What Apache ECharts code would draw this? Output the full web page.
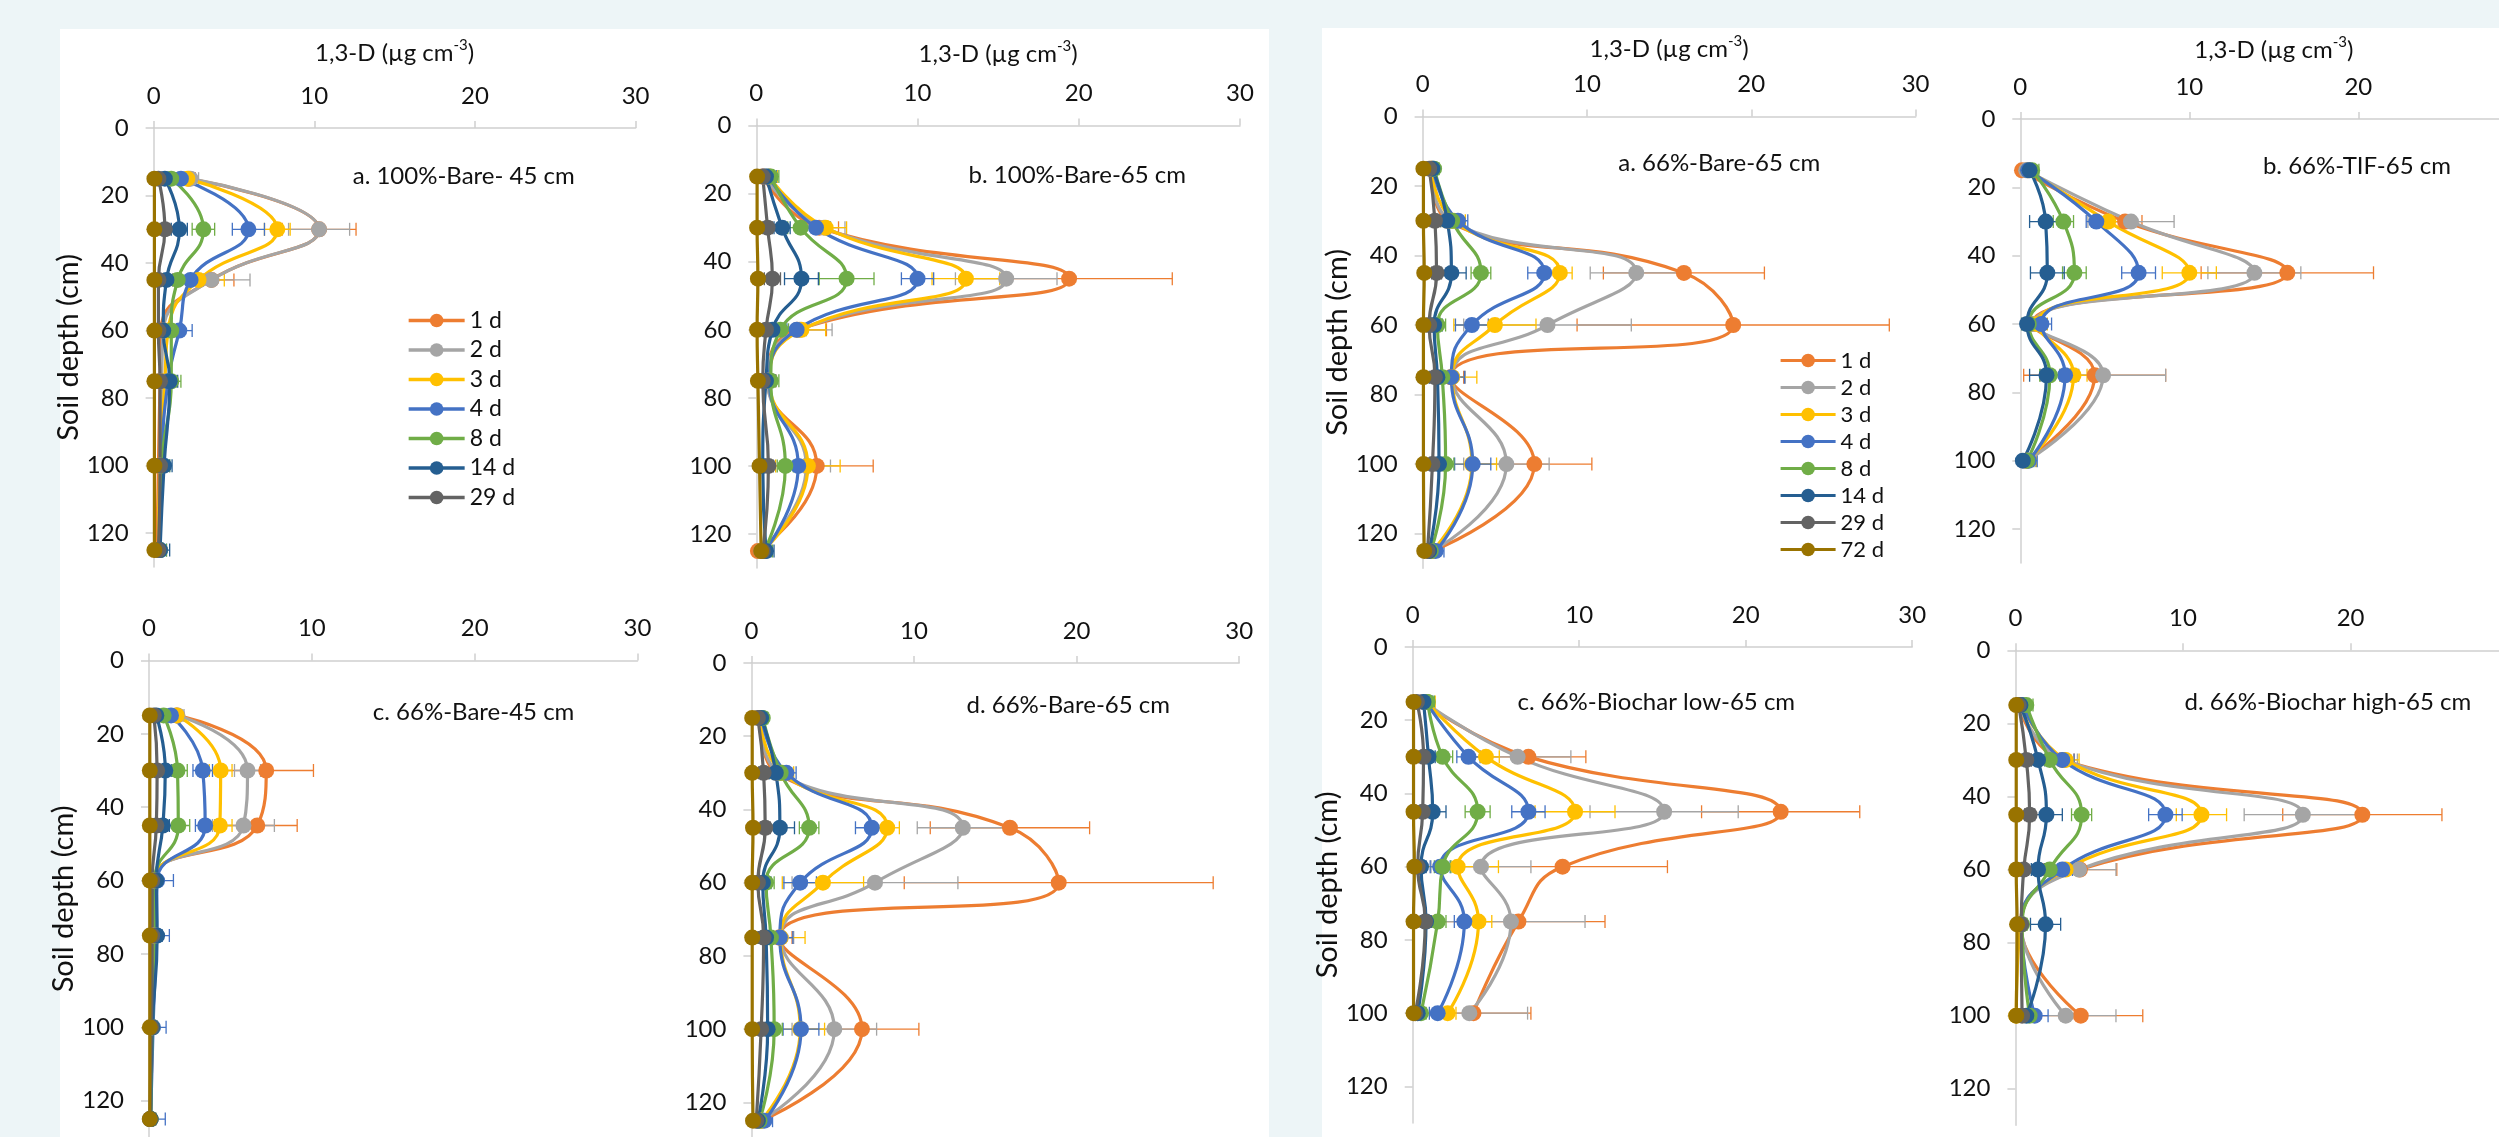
<!DOCTYPE html>
<html>
<head>
<meta charset="utf-8">
<script src="https://cdn.jsdelivr.net/npm/echarts@6/dist/echarts.min.js"></script>
<style>
  html, body { margin: 0; padding: 0; background: #EDF5F7; }
  #wrap { position: relative; width: 2499px; height: 1137px; overflow: hidden; }
  .box { position: absolute; background: #fff; }
  #main { position: absolute; left: 0; top: 0; width: 2499px; height: 1137px; }
</style>
</head>
<body>
<div id="wrap">
  <div class="box" style="left:60px;top:29px;width:1209px;height:1108px;"></div>
  <div class="box" style="left:1322px;top:28px;width:1177px;height:1109px;"></div>
  <div id="main"></div>
</div>
<script>
// depth of the sampling ports (cm)
var DEPTHS = [15, 30, 45, 60, 75, 100, 125];
var DEPTHS_SHORT = [15, 30, 45, 60, 75, 100];
var DAYS = ['1 d', '2 d', '3 d', '4 d', '8 d', '14 d', '29 d', '72 d'];
var COLORS = ['#ED7D31', '#A5A5A5', '#FFC000', '#4472C4', '#70AD47', '#255E91', '#636363', '#997300'];
var DEPTH_TICKS = [0, 20, 40, 60, 80, 100, 120];

// rows = days (1 d ... 72 d), columns = depths; 1,3-D in µg cm-3
// a. 100%-Bare- 45 cm
var bare100_45 = [
  [2.2, 10.3, 3.6, 0.45, 0.4, 0.3, 0.2],
  [2.3, 10.3, 3.6, 0.6, 0.5, 0.4, 0.3],
  [2.1, 7.7, 2.8, 0.9, 0.7, 0.4, 0.3],
  [1.7, 5.9, 2.3, 1.6, 0.9, 0.5, 0.4],
  [1.1, 3.1, 1.5, 1.1, 1.1, 0.5, 0.4],
  [0.7, 1.6, 0.8, 0.6, 1.0, 0.65, 0.4],
  [0.3, 0.7, 0.3, 0.3, 0.4, 0.4, 0.3],
  [0.05, 0.05, 0.05, 0.05, 0.05, 0.05, 0.05]
];
var bare100_45_sd = [
  [0.4, 2.3, 1.4, 0.3, 0.3, 0.3, 0.3],
  [0.5, 1.9, 2.4, 0.4, 0.4, 0.4, 0.3],
  [0.4, 0.8, 1.6, 0.4, 0.4, 0.4, 0.3],
  [0.3, 1.0, 0.8, 0.8, 0.5, 0.5, 0.4],
  [0.3, 0.7, 0.6, 0.4, 0.6, 0.5, 0.4],
  [0.2, 0.5, 0.4, 0.3, 0.5, 0.5, 0.6],
  [0.2, 0.3, 0.2, 0.2, 0.2, 0.3, 0.3],
  [0, 0, 0, 0, 0, 0, 0]
];

// b. 100%-Bare-65 cm
var bare100_65 = [
  [0.4, 3.9, 19.4, 2.55, 0.7, 3.75, 0.1],
  [0.5, 4.2, 15.5, 2.7, 0.7, 3.1, 0.3],
  [0.8, 4.3, 13.0, 2.8, 0.8, 3.2, 0.4],
  [0.75, 3.7, 10.0, 2.5, 0.8, 2.6, 0.5],
  [0.9, 2.75, 5.6, 1.5, 0.9, 1.8, 0.5],
  [0.6, 1.6, 2.8, 1.0, 0.6, 0.4, 0.6],
  [0.4, 0.7, 1.0, 0.6, 0.4, 0.75, 0.4],
  [0.05, 0.05, 0.1, 0.05, 0.1, 0.2, 0.3]
];
var bare100_65_sd = [
  [0.4, 1.2, 6.4, 1.8, 0.5, 3.5, 0.3],
  [0.5, 1.3, 3.15, 2.0, 0.5, 1.5, 0.4],
  [0.5, 1.3, 2.1, 1.5, 0.4, 2.0, 0.4],
  [0.5, 0.9, 1.0, 0.6, 0.4, 0.6, 0.4],
  [0.5, 0.8, 1.7, 0.5, 0.5, 0.5, 0.5],
  [0.4, 0.5, 1.05, 0.4, 0.4, 0.3, 0.5],
  [0.2, 0.3, 0.5, 0.3, 0.3, 0.3, 0.3],
  [0, 0, 0, 0, 0, 0, 0]
];

// c. 66%-Bare-45 cm
var bare66_45 = [
  [1.7, 7.2, 6.65, 0.3, 0.3, 0.2, 0.1],
  [1.75, 6.05, 5.8, 0.3, 0.3, 0.2, 0.1],
  [1.7, 4.4, 4.35, 0.35, 0.35, 0.2, 0.1],
  [1.35, 3.3, 3.45, 0.5, 0.45, 0.25, 0.1],
  [0.9, 1.75, 1.8, 0.35, 0.4, 0.2, 0.1],
  [0.45, 1.0, 0.85, 0.45, 0.5, 0.2, 0.1],
  [0.3, 0.5, 0.45, 0.2, 0.2, 0.15, 0.05],
  [0.05, 0.05, 0.05, 0.05, 0.05, 0.05, 0.05]
];
var bare66_45_sd = [
  [0.3, 2.9, 2.45, 0.3, 0.3, 0.3, 0.3],
  [0.4, 0.8, 1.9, 0.3, 0.3, 0.3, 0.3],
  [0.3, 0.7, 0.75, 0.3, 0.3, 0.3, 0.3],
  [0.3, 0.6, 0.6, 1.0, 0.8, 0.8, 0.9],
  [0.3, 0.6, 0.7, 0.3, 0.3, 0.3, 0.3],
  [0.2, 0.4, 0.4, 0.3, 0.3, 0.3, 0.3],
  [0.2, 0.2, 0.2, 0.2, 0.2, 0.2, 0.2],
  [0, 0, 0, 0, 0, 0, 0]
];

// d. / a. 66%-Bare-65 cm (same treatment drawn twice)
var bare66_65 = [
  [0.5, 1.55, 15.9, 18.9, 1.7, 6.8, 0.6],
  [0.5, 1.7, 13.0, 7.6, 1.8, 5.1, 0.6],
  [0.55, 1.9, 8.35, 4.4, 1.8, 3.0, 0.6],
  [0.65, 2.15, 7.4, 3.0, 1.75, 3.05, 0.8],
  [0.7, 1.8, 3.55, 0.9, 1.2, 1.4, 0.5],
  [0.6, 1.5, 1.75, 0.7, 0.9, 1.0, 0.4],
  [0.4, 0.75, 0.85, 0.4, 0.75, 0.6, 0.3],
  [0.05, 0.05, 0.1, 0.05, 0.05, 0.05, 0.1]
];
var bare66_65_sd = [
  [0.3, 0.6, 4.9, 9.5, 0.8, 3.5, 0.4],
  [0.3, 0.6, 2.8, 5.1, 0.8, 2.6, 0.4],
  [0.3, 0.7, 0.75, 2.5, 1.5, 1.5, 0.4],
  [0.3, 0.6, 1.0, 1.0, 0.8, 1.1, 0.5],
  [0.3, 0.5, 0.6, 0.5, 0.6, 0.5, 0.4],
  [0.3, 0.4, 0.9, 0.5, 0.5, 0.5, 0.3],
  [0.2, 0.3, 0.3, 0.3, 0.3, 0.3, 0.2],
  [0, 0, 0, 0, 0, 0, 0]
];

// b. 66%-TIF-65 cm (1 d ... 14 d)
var tif66_65 = [
  [0.1, 6.2, 15.8, 0.7, 4.4, 0.3],
  [0.35, 6.55, 13.85, 0.8, 4.9, 0.4],
  [0.45, 5.2, 10.0, 1.0, 3.15, 0.45],
  [0.45, 4.5, 7.0, 1.25, 2.65, 0.5],
  [0.7, 2.55, 3.2, 0.5, 1.75, 0.4],
  [0.55, 1.5, 1.6, 0.4, 1.55, 0.15]
];
var tif66_65_sd = [
  [0.3, 1.0, 5.1, 0.5, 4.2, 0.4],
  [0.4, 2.55, 2.75, 0.6, 3.7, 0.5],
  [0.4, 0.9, 1.6, 0.6, 0.8, 0.5],
  [0.4, 0.6, 1.0, 0.6, 0.8, 0.5],
  [0.4, 0.6, 0.7, 0.4, 0.6, 0.4],
  [0.3, 0.95, 1.0, 0.3, 1.0, 0.3]
];

// c. 66%-Biochar low-65 cm
var bclow66_65 = [
  [0.65, 6.95, 22.1, 9.0, 6.35, 3.65],
  [0.7, 6.3, 15.1, 4.1, 5.9, 3.4],
  [0.85, 4.4, 9.75, 2.7, 3.95, 2.1],
  [0.8, 3.35, 6.95, 1.65, 3.1, 1.5],
  [0.9, 1.8, 3.9, 1.8, 1.5, 0.5],
  [0.65, 0.95, 1.2, 0.5, 0.8, 0.3],
  [0.25, 0.65, 0.6, 0.3, 0.75, 0.15],
  [0.05, 0.05, 0.05, 0.1, 0.05, 0.05]
];
var bclow66_65_sd = [
  [0.4, 3.45, 4.75, 6.3, 5.2, 3.45],
  [0.5, 3.2, 4.45, 3.0, 4.45, 3.5],
  [0.5, 0.8, 2.4, 2.45, 0.8, 0.5],
  [0.4, 0.7, 1.0, 0.6, 0.6, 0.5],
  [0.4, 0.6, 0.75, 0.5, 0.5, 0.3],
  [0.3, 0.4, 0.8, 0.3, 0.3, 0.3],
  [0.2, 0.3, 0.3, 0.2, 0.3, 0.2],
  [0, 0, 0, 0, 0, 0]
];

// d. 66%-Biochar high-65 cm
var bchigh66_65 = [
  [0.2, 2.8, 20.7, 3.85, 0.3, 3.9],
  [0.25, 2.9, 17.15, 3.8, 0.35, 3.0],
  [0.4, 3.0, 11.1, 3.0, 0.3, 0.05],
  [0.45, 2.8, 8.95, 2.8, 0.35, 1.15],
  [0.65, 2.05, 3.95, 2.05, 0.4, 0.85],
  [0.3, 1.35, 1.85, 1.35, 1.8, 0.65],
  [0.2, 0.65, 0.85, 0.5, 0.35, 0.4],
  [0.05, 0.05, 0.05, 0.05, 0.1, 0.05]
];
var bchigh66_65_sd = [
  [0.4, 0.7, 4.75, 2.2, 0.3, 3.7],
  [0.4, 0.8, 3.5, 2.2, 0.3, 3.0],
  [0.4, 0.8, 1.5, 0.8, 0.3, 0.3],
  [0.4, 0.7, 1.0, 0.6, 0.3, 0.8],
  [0.4, 0.5, 0.6, 0.5, 0.3, 0.4],
  [0.3, 0.4, 0.95, 0.4, 0.9, 0.4],
  [0.2, 0.3, 0.3, 0.2, 0.2, 0.2],
  [0, 0, 0, 0, 0, 0]
];

var TITLE = '1,3-D (µg cm{s|-3})';
var YNAME = 'Soil depth (cm)';
var FONT = 'Lato';

// panel layout (pixel boxes of each plot area)
var PANELS = [
  { mean: bare100_45, sd: bare100_45_sd, depths: DEPTHS, box: [153.6, 128, 482, 439],
    label: 'a. 100%-Bare- 45 cm', at: [352.7, 176.5], title: 60, yname: 35 },
  { mean: bare100_65, sd: bare100_65_sd, depths: DEPTHS, box: [756.3, 125.5, 483.7, 442.6],
    label: 'b. 100%-Bare-65 cm', at: [968.6, 175.7], title: 56.5 },
  { mean: bare66_45, sd: bare66_45_sd, depths: DEPTHS, box: [149, 660.4, 488.5, 477],
    label: 'c. 66%-Bare-45 cm', at: [372.8, 712], yname: 31 },
  { mean: bare66_65, sd: bare66_65_sd, depths: DEPTHS, box: [751.4, 663, 487.8, 476],
    label: 'd. 66%-Bare-65 cm', at: [966.5, 705.6] },
  { mean: bare66_65, sd: bare66_65_sd, depths: DEPTHS, box: [1422.6, 116.5, 493, 451.8],
    label: 'a. 66%-Bare-65 cm', at: [1618.3, 163.5], title: 52.5, yname: 40 },
  { mean: tif66_65, sd: tif66_65_sd, depths: DEPTHS_SHORT, box: [2020.3, 119.1, 507, 444],
    label: 'b. 66%-TIF-65 cm', at: [2262.9, 166.5], title: 54 },
  { mean: bclow66_65, sd: bclow66_65_sd, depths: DEPTHS_SHORT, box: [1412.7, 647, 499.5, 476],
    label: 'c. 66%-Biochar low-65 cm', at: [1517.5, 702], yname: 34 },
  { mean: bchigh66_65, sd: bchigh66_65_sd, depths: DEPTHS_SHORT, box: [2015.4, 650.3, 502.8, 475],
    label: 'd. 66%-Biochar high-65 cm', at: [2184.6, 702] }
];

function errorBar(color) {
  return function (params, api) {
    var v = api.value(0), d = api.value(1), e = api.value(2);
    if (!e) return null;
    var l = api.coord([v - e, d]);
    var r = api.coord([v + e, d]);
    var st = { stroke: color, lineWidth: 1.3 };
    return {
      type: 'group',
      children: [
        { type: 'line', shape: { x1: l[0], y1: l[1], x2: r[0], y2: r[1] }, style: st },
        { type: 'line', shape: { x1: l[0], y1: l[1] - 6.5, x2: l[0], y2: l[1] + 6.5 }, style: st },
        { type: 'line', shape: { x1: r[0], y1: r[1] - 6.5, x2: r[0], y2: r[1] + 6.5 }, style: st }
      ]
    };
  };
}

var axisGrey = '#D0D0D0';
var grids = [], xAxes = [], yAxes = [], series = [], graphics = [];

PANELS.forEach(function (p, i) {
  grids.push({ left: p.box[0], top: p.box[1], width: p.box[2], height: p.box[3],
    containLabel: false, outerBoundsMode: 'none' });

  xAxes.push({
    gridIndex: i, type: 'value', position: 'top', min: 0, max: 30, interval: 10,
    axisLine: { show: true, onZero: false, lineStyle: { color: axisGrey, width: 1.5 } },
    axisTick: { show: true, inside: false, length: 7, lineStyle: { color: axisGrey, width: 1.5 } },
    splitLine: { show: false },
    axisLabel: { fontSize: 24, fontFamily: FONT, color: '#111', margin: 20 },
    name: p.title ? TITLE : '',
    nameLocation: 'middle',
    nameGap: p.title || 0,
    nameTextStyle: {
      fontSize: 24, fontFamily: FONT, color: '#111', lineHeight: 30,
      rich: { s: { fontSize: 15, fontFamily: FONT, color: '#111', verticalAlign: 'top', lineHeight: 30 } }
    }
  });

  yAxes.push({
    gridIndex: i, type: 'value', inverse: true, min: 0, max: 130, interval: 20,
    axisLine: { show: true, onZero: false, lineStyle: { color: axisGrey, width: 1.5 } },
    axisTick: { show: true, inside: false, length: 8, customValues: DEPTH_TICKS,
      lineStyle: { color: axisGrey, width: 1.5 } },
    splitLine: { show: false },
    axisLabel: { fontSize: 24, fontFamily: FONT, color: '#111', margin: 25,
      customValues: DEPTH_TICKS },
    name: p.yname ? YNAME : '',
    nameLocation: 'middle',
    nameRotate: 90,
    nameGap: p.yname || 0,
    nameTextStyle: { fontSize: 29, fontFamily: FONT, color: '#111' }
  });

  // error bars first, so the curves sit on top
  p.mean.forEach(function (row, k) {
    series.push({
      type: 'custom', name: 'sd ' + DAYS[k], xAxisIndex: i, yAxisIndex: i,
      z: 2, clip: true, silent: true,
      renderItem: errorBar(COLORS[k]),
      encode: { x: 0, y: 1 },
      data: row.map(function (v, j) { return [v, p.depths[j], p.sd[k][j]]; })
    });
  });
  p.mean.forEach(function (row, k) {
    series.push({
      type: 'line', name: DAYS[k], xAxisIndex: i, yAxisIndex: i, z: 3,
      smooth: 0.5, clip: false,
      symbol: 'circle', symbolSize: 16, showSymbol: true,
      lineStyle: { width: 3.2, color: COLORS[k] },
      itemStyle: { color: COLORS[k] },
      emphasis: { disabled: true },
      data: row.map(function (v, j) { return [v, p.depths[j]]; })
    });
  });

  graphics.push({
    type: 'text', x: p.at[0], y: p.at[1], silent: true,
    style: { text: p.label, fontSize: 24, fontFamily: FONT, fill: '#111', align: 'left', verticalAlign: 'middle' }
  });
});

var legendText = { fontFamily: FONT, color: '#111' };

var option = {
  animation: false,
  backgroundColor: 'transparent',
  textStyle: { fontFamily: FONT },
  grid: grids,
  xAxis: xAxes,
  yAxis: yAxes,
  legend: [
    {
      data: DAYS.slice(0, 7), orient: 'vertical', left: 402, top: 304,
      itemWidth: 56, itemHeight: 17, itemGap: 6.5, selectedMode: false,
      lineStyle: { width: 3.3 },
      textStyle: Object.assign({ fontSize: 23, lineHeight: 23 }, legendText)
    },
    {
      data: DAYS, orient: 'vertical', left: 1774, top: 344,
      itemWidth: 55, itemHeight: 17, itemGap: 4, selectedMode: false,
      lineStyle: { width: 3.2 },
      textStyle: Object.assign({ fontSize: 22, lineHeight: 23 }, legendText)
    }
  ],
  graphic: graphics,
  series: series
};

var myChart = echarts.init(document.getElementById('main'));
myChart.setOption(option);
</script>
</body>
</html>
